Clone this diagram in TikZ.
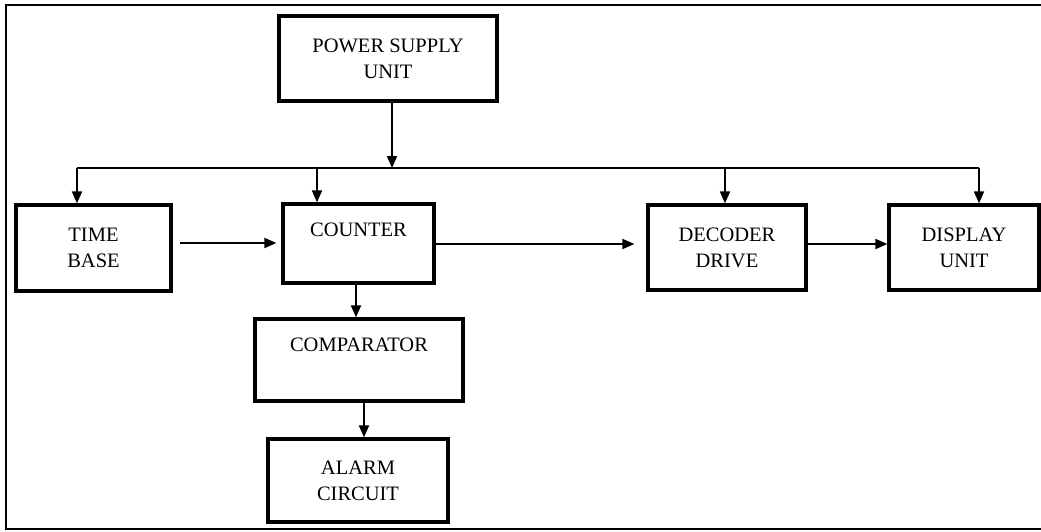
\documentclass[tikz,border=0pt]{standalone}
\usepackage{fontspec}
\setmainfont{Liberation Serif}
\usetikzlibrary{calc, positioning}
\usetikzlibrary{arrows.meta}

\begin{document}
\begin{tikzpicture}[
    x=1pt,
    y=-1pt,
    block/.style={draw, line width=3.2pt, align=center, inner sep=0pt,
        font=\fontsize{20.5}{26}\selectfont},
    toptext/.style={text height=32pt},
    link/.style={line width=1.8pt, -{Triangle[length=12pt, width=10pt]}}
]
\useasboundingbox (0,0) rectangle (1041,531);

% Frame
\draw[line width=2.6pt] (1045,5) -- (6,5) -- (6,529) -- (1045,529);

% Blocks
\node[block, minimum width=218pt, minimum height=85pt] (psu) at (388,58.5) {POWER SUPPLY\\UNIT};
\node[block, minimum width=155pt, minimum height=86pt] (tb) at (93.5,248) {TIME\\BASE};
\node[block, toptext, text depth=47pt, minimum width=151pt] (cnt) at (358.5,243.5) {COUNTER};
\node[block, minimum width=158pt, minimum height=85pt] (dec) at (727,247.5) {DECODER\\DRIVE};
\node[block, minimum width=150pt, minimum height=85pt] (disp) at (964,247.5) {DISPLAY\\UNIT};
\node[block, toptext, text depth=50pt, minimum width=208pt] (cmp) at (359,360) {COMPARATOR};
\node[block, minimum width=180pt, minimum height=83pt] (alm) at (358,480.5) {ALARM\\CIRCUIT};

% Supply bus
\coordinate (bus) at (392,168);
\coordinate (tapTB) at (77,168);
\coordinate (tapCNT) at (317,168);
\coordinate (tapDEC) at (725,168);
\coordinate (tapDISP) at (979,168);

\draw[link] ([xshift=4pt]psu.south) -- (bus);
\draw[line width=1.8pt] (tapTB) -- (tapDISP);
\draw[link] (tapTB) -- (tapTB |- tb.north);
\draw[link] (tapCNT) -- (tapCNT |- cnt.north);
\draw[link] (tapDEC) -- (tapDEC |- dec.north);
\draw[link] (tapDISP) -- (tapDISP |- disp.north);

% Signal path
\draw[link, shorten <=7pt, shorten >=5pt] (tb.east |- 0,243) -- (cnt.west |- 0,243);
\draw[link, shorten >=12pt] (cnt.east |- 0,244) -- (dec.west |- 0,244);
\draw[link] (dec.east |- 0,244) -- (disp.west |- 0,244);
\draw[link] ([xshift=-2.5pt]cnt.south) -- ([xshift=-3pt]cmp.north);
\draw[link] ([xshift=5pt]cmp.south) -- ([xshift=6pt]alm.north);
\end{tikzpicture}
\end{document}
